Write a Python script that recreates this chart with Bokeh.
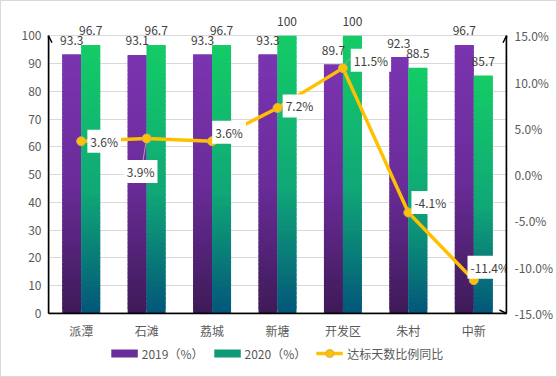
import numpy as np
from bokeh.plotting import figure
from bokeh.layouts import column
from bokeh.models import (Range1d, LinearAxis, FixedTicker, PrintfTickFormatter, ColumnDataSource,
                          Legend, LegendItem, Arrow, OpenHead)
from bokeh.core.properties import value
from bokeh.embed import file_html
from bokeh.resources import INLINE

# ---------------- data ----------------
categories = ["派潭", "石滩", "荔城", "新塘", "开发区", "朱村", "中新"]
rate_2019 = [93.3, 93.1, 93.3, 93.3, 89.7, 92.3, 96.7]
rate_2020 = [96.7, 96.7, 96.7, 100, 100, 88.5, 85.7]
yoy_pct = [3.6, 3.9, 3.6, 7.2, 11.5, -4.1, -11.4]
yoy_labels = ["3.6%", "3.9%", "3.6%", "7.2%", "11.5%", "-4.1%", "-11.4%"]
left_ticks = list(range(0, 101, 10))
right_ticks = [-15, -10, -5, 0, 5, 10, 15]
series_names = ["2019（%）", "2020（%）", "达标天数比例同比"]

# ---------------- style / layout ----------------
FONT = "Noto Sans CJK SC"
TXT = "#595959"
LBL = "#404040"
W, H, LH = 555, 341, 34
BL, BR, BT, BB = 47, 48, 12, 29
FW, FH = W - BL - BR, H - BT - BB
Y_TOP = 108          # head-room above 100 for value labels
L_MIN, L_MAX = 0, 100
R_MIN, R_MAX = -15, 15
R_TOP = R_MIN + (R_MAX - R_MIN) * Y_TOP / (L_MAX - L_MIN)
purple_stops = [(0.0, "#3E1A57"), (0.5, "#6A2C99"), (1.0, "#7B34B0")]
green_stops = [(0.0, "#03567A"), (0.45, "#10A777"), (1.0, "#14CC66")]
# label offsets in px (right, up)
lab_dx = [23, -6, 17, 22, 28, 22, 16]
lab_dy = [0, -33, 9, 2, 8, 10, 13]
leaders = {1: [(0, 0), (-4, -24)], 4: [(0, 0), (6, 9), (13, 9)], 5: [(0, 0), (23, 0)]}

n = len(categories)
centers = np.arange(n) + 0.5


def hex2rgb(h):
    h = h.lstrip("#")
    return np.array([int(h[i:i + 2], 16) for i in (0, 2, 4)], dtype=float)


def interp(stops, f):
    for (f0, c0), (f1, c1) in zip(stops[:-1], stops[1:]):
        if f <= f1:
            t = (f - f0) / (f1 - f0)
            c = hex2rgb(c0) * (1 - t) + hex2rgb(c1) * t
            return "#%02x%02x%02x" % tuple(int(round(v)) for v in c)
    return stops[-1][1]


def strips(vals, offset, stops, N=60):
    xs, bs, ts, cs = [], [], [], []
    for i, v in enumerate(vals):
        for k in range(N):
            xs.append(centers[i] + offset)
            bs.append(v * k / N)
            ts.append(min(v, v * (k + 1.8) / N))
            cs.append(interp(stops, (k + 0.5) / N))
    return ColumnDataSource(dict(x=xs, b=bs, t=ts, c=cs))


def style_axis(ax, standoff):
    ax.axis_line_color = "black"
    ax.axis_line_width = 1.5
    ax.major_tick_line_color = None
    ax.minor_tick_line_color = None
    ax.major_tick_out = 0
    ax.major_tick_in = 0
    ax.minor_tick_out = 0
    ax.major_label_text_color = TXT
    ax.major_label_text_font = FONT
    ax.major_label_text_font_size = "12px"
    ax.major_label_standoff = standoff


p = figure(width=W, height=H, x_range=Range1d(0, n), y_range=Range1d(L_MIN, Y_TOP),
           output_backend="svg", toolbar_location=None,
           min_border_left=BL, min_border_right=BR, min_border_top=BT, min_border_bottom=BB)
p.extra_y_ranges = {"pct": Range1d(R_MIN, R_TOP)}
p.outline_line_color = None
p.background_fill_color = "white"
p.border_fill_color = "white"
p.xgrid.visible = False
p.ygrid.grid_line_color = "#D9D9D9"
p.ygrid.ticker = FixedTicker(ticks=left_ticks)

style_axis(p.yaxis[0], 7)
p.yaxis[0].ticker = FixedTicker(ticks=left_ticks)
p.yaxis[0].bounds = (L_MIN, L_MAX)
style_axis(p.xaxis[0], 8)
p.xaxis[0].ticker = FixedTicker(ticks=list(centers))
p.xaxis[0].major_label_overrides = {float(c): cat for c, cat in zip(centers, categories)}

ax_r = LinearAxis(y_range_name="pct", ticker=FixedTicker(ticks=right_ticks),
                  formatter=PrintfTickFormatter(format="%.1f%%"), bounds=(R_MIN, R_MAX))
style_axis(ax_r, 8)
p.add_layout(ax_r, "right")

# bars
bw = 0.29
p.vbar(x="x", width=bw, bottom="b", top="t", fill_color="c", line_color=None,
       source=strips(rate_2019, -bw / 2, purple_stops))
p.vbar(x="x", width=bw, bottom="b", top="t", fill_color="c", line_color=None,
       source=strips(rate_2020, bw / 2, green_stops))

# bar value labels
bar_src = ColumnDataSource(dict(
    x=list(centers - bw / 2) + list(centers + bw / 2),
    y=rate_2019 + rate_2020,
    t=[f"{v:g}" for v in rate_2019 + rate_2020]))
p.text(x="x", y="y", text="t", source=bar_src, text_align="center", text_baseline="middle",
       y_offset=-14, text_color=LBL, text_font=value(FONT), text_font_size="12px")

# leader lines (px offsets converted to data units)
sx = n / FW
sy = (R_TOP - R_MIN) / FH
lx, ly = [], []
for i, pts in leaders.items():
    lx.append([centers[i] + dx * sx for dx, dy in pts])
    ly.append([yoy_pct[i] + dy * sy for dx, dy in pts])
p.multi_line(xs=lx, ys=ly, y_range_name="pct", line_color="#A6A6A6", line_width=1)

# yoy line
line_r = p.line(x=centers, y=yoy_pct, y_range_name="pct", line_color="#FFC000", line_width=3.5)
sc_r = p.scatter(x=centers, y=yoy_pct, y_range_name="pct", size=9, marker="circle",
                 fill_color="#FFC000", line_color="#C8B070", line_width=1)

lab_src = ColumnDataSource(dict(x=centers, y=yoy_pct, t=yoy_labels,
                                dx=lab_dx, dy=[-d for d in lab_dy]))
p.text(x="x", y="y", text="t", source=lab_src, y_range_name="pct", x_offset="dx", y_offset="dy",
       text_align="center", text_baseline="middle", text_color=LBL, text_font=value(FONT),
       text_font_size="12px", background_fill_color="white", padding=3)

# axis arrows
head = dict(size=7, line_color="black", line_width=1.5)
p.add_layout(Arrow(end=OpenHead(**head), x_start=0, y_start=L_MIN, x_end=0, y_end=L_MAX,
                   line_color="black", line_width=1.5))
p.add_layout(Arrow(end=OpenHead(**head), x_start=n, y_start=L_MIN, x_end=n, y_end=L_MAX,
                   line_color="black", line_width=1.5))
p.add_layout(Arrow(end=OpenHead(**head), x_start=0, y_start=L_MIN, x_end=n, y_end=L_MIN,
                   line_color="black", line_width=1.5))

# legend (separate strip below the chart); helper glyphs sit outside the visible range
lf = figure(width=W, height=LH, output_backend="svg", toolbar_location=None,
            x_axis_type=None, y_axis_type=None, min_border=0,
            x_range=Range1d(0, 1), y_range=Range1d(0, 1))
lf.outline_line_color = None
lf.grid.visible = False
off = dict(x=[-10, -9], y=[-10, -10])
leg1 = lf.line(line_color="#6A2C99", line_width=8, **off)
leg2 = lf.line(line_color="#0E9A74", line_width=8, **off)
leg3a = lf.line(line_color="#FFC000", line_width=3.5, **off)
leg3b = lf.scatter(marker="circle", fill_color="#FFC000", line_color="#C8B070",
                   line_width=1, **off)
legend = Legend(items=[LegendItem(label=series_names[0], renderers=[leg1]),
                       LegendItem(label=series_names[1], renderers=[leg2]),
                       LegendItem(label=series_names[2], renderers=[leg3a, leg3b])],
                orientation="horizontal", location="top", glyph_width=27, glyph_height=20,
                label_standoff=4, spacing=10, padding=2, margin=1,
                border_line_color=None, background_fill_alpha=0,
                label_text_font=FONT, label_text_font_size="12px", label_text_color=TXT)
lf.add_layout(legend, "center")

layout = column(p, lf, spacing=0, styles={"border": "1px solid #D9D9D9"})
open("out.html", "w").write(file_html(layout, INLINE))
